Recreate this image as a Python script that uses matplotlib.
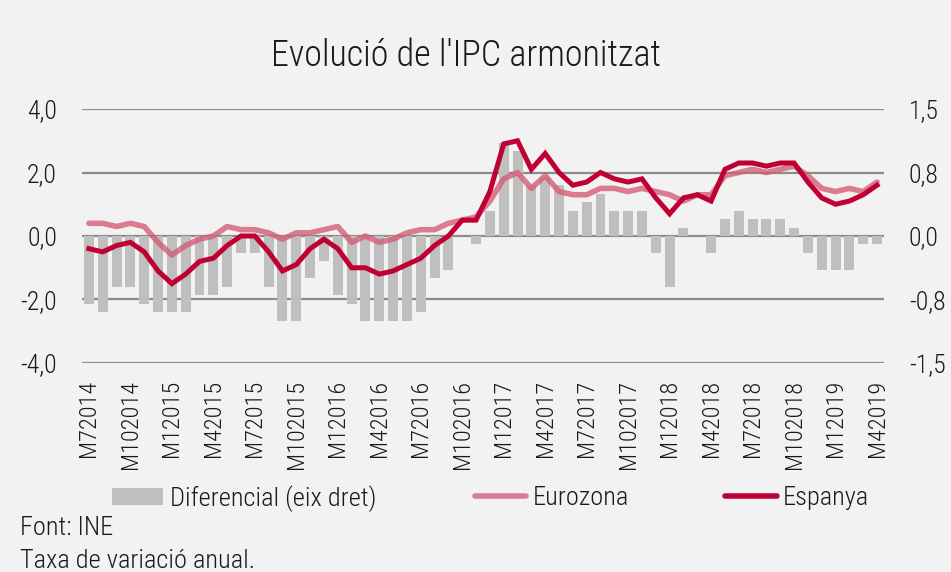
#!/usr/bin/env python3
"""
Evolucio de l'IPC armonitzat - Espanya vs Eurozona
"""

import matplotlib
matplotlib.use('Agg')
import matplotlib.pyplot as plt
from matplotlib import font_manager
from matplotlib.patches import Patch
from matplotlib.lines import Line2D
import numpy as np

# Data (taxa de variacio anual, M7 2014 - M4 2019)
months = ['M72014', 'M82014', 'M92014', 'M102014', 'M112014', 'M122014',
          'M12015', 'M22015', 'M32015', 'M42015', 'M52015', 'M62015',
          'M72015', 'M82015', 'M92015', 'M102015', 'M112015', 'M122015',
          'M12016', 'M22016', 'M32016', 'M42016', 'M52016', 'M62016',
          'M72016', 'M82016', 'M92016', 'M102016', 'M112016', 'M122016',
          'M12017', 'M22017', 'M32017', 'M42017', 'M52017', 'M62017',
          'M72017', 'M82017', 'M92017', 'M102017', 'M112017', 'M122017',
          'M12018', 'M22018', 'M32018', 'M42018', 'M52018', 'M62018',
          'M72018', 'M82018', 'M92018', 'M102018', 'M112018', 'M122018',
          'M12019', 'M22019', 'M32019', 'M42019']

espanya = [-0.4, -0.5, -0.3, -0.2, -0.5, -1.1,
           -1.5, -1.2, -0.8, -0.7, -0.3, 0.0, 0.0, -0.5, -1.1, -0.9, -0.4, -0.1,
           -0.4, -1.0, -1.0, -1.2, -1.1, -0.9, -0.7, -0.3, 0.0, 0.5, 0.5, 1.4,
           2.9, 3.0, 2.1, 2.6, 2.0, 1.6, 1.7, 2.0, 1.8, 1.7, 1.8, 1.2,
           0.7, 1.2, 1.3, 1.1, 2.1, 2.3, 2.3, 2.2, 2.3, 2.3, 1.7, 1.2,
           1.0, 1.1, 1.3, 1.6]

eurozona = [0.4, 0.4, 0.3, 0.4, 0.3, -0.2,
            -0.6, -0.3, -0.1, 0.0, 0.3, 0.2, 0.2, 0.1, -0.1, 0.1, 0.1, 0.2,
            0.3, -0.2, 0.0, -0.2, -0.1, 0.1, 0.2, 0.2, 0.4, 0.5, 0.6, 1.1,
            1.8, 2.0, 1.5, 1.9, 1.4, 1.3, 1.3, 1.5, 1.5, 1.4, 1.5, 1.4,
            1.3, 1.1, 1.3, 1.3, 1.9, 2.0, 2.1, 2.0, 2.1, 2.2, 1.9, 1.5,
            1.4, 1.5, 1.4, 1.7]

diferencial = [-0.8, -0.9, -0.6, -0.6, -0.8, -0.9,
               -0.9, -0.9, -0.7, -0.7, -0.6, -0.2, -0.2, -0.6, -1.0, -1.0, -0.5, -0.3,
               -0.7, -0.8, -1.0, -1.0, -1.0, -1.0, -0.9, -0.5, -0.4, 0.0, -0.1, 0.3,
               1.1, 1.0, 0.6, 0.7, 0.6, 0.3, 0.4, 0.5, 0.3, 0.3, 0.3, -0.2,
               -0.6, 0.1, 0.0, -0.2, 0.2, 0.3, 0.2, 0.2, 0.2, 0.1, -0.2, -0.4,
               -0.4, -0.4, -0.1, -0.1]

left_ticks = [-4.0, -2.0, 0.0, 2.0, 4.0]
left_labels = ['-4,0', '-2,0', '0,0', '2,0', '4,0']
right_ticks = [-1.5, -0.75, 0.0, 0.75, 1.5]
right_labels = ['-1,5', '-0,8', '0,0', '0,8', '1,5']

# Pick a narrow font if one is installed
available = {f.name for f in font_manager.fontManager.ttflist}
FONT = 'DejaVu Sans'
for fam in ['Roboto Condensed', 'Liberation Sans Narrow', 'Open Sans Condensed', 'Roboto']:
    if fam in available:
        FONT = fam
        break
plt.rcParams['font.family'] = [FONT, 'DejaVu Sans']
plt.rcParams['font.weight'] = 'light'

BG = '#F2F2F2'
TXT = '#1A1A1A'
RED = '#C00032'
PINK = '#D45A75'
GREY = '#BFBFBF'
GRID = '#8C8C8C'

fig = plt.figure(figsize=(9.51, 5.72), dpi=100, facecolor=BG)
ax = fig.add_axes([0.0862, 0.3654, 0.8433, 0.4440])
ax2 = ax.twinx()

x = np.arange(len(months))

# Bars on the right axis, drawn underneath
ax2.bar(x, diferencial, width=0.72, color=GREY, zorder=2)
ax2.set_ylim(-1.5, 1.5)
ax2.set_yticks(right_ticks)
ax2.set_yticklabels(right_labels)
for t in right_ticks:
    ax2.axhline(t, color=GRID, linewidth=1.6, zorder=1)
ax2.set_facecolor(BG)

# Lines on the left axis, on top
ax.set_zorder(ax2.get_zorder() + 1)
ax.patch.set_visible(False)
ax.plot(x, eurozona, color=PINK, alpha=0.78, linewidth=4.0, solid_capstyle='round')
ax.plot(x, espanya, color=RED, linewidth=3.6, solid_joinstyle='miter')
ax.set_ylim(-4, 4)
ax.set_yticks(left_ticks)
ax.set_yticklabels(left_labels)
ax.set_xlim(-0.5, len(months) - 0.5)
ax.set_xticks(x[::3])
ax.set_xticklabels(months[::3], rotation=90)

for a in (ax, ax2):
    for s in a.spines.values():
        s.set_visible(False)
    a.tick_params(length=0, labelsize=17.5, colors=TXT)
ax.tick_params(axis='y', pad=18, labelsize=18.5)
ax2.tick_params(axis='y', pad=18, labelsize=18.5)
ax.tick_params(axis='x', pad=12)

fig.text(0.49, 0.902, "Evolució de l'IPC armonitzat", ha='center', va='center',
         fontsize=26, color=TXT)

# Legend entries placed separately
leg_kw = dict(frameon=False, fontsize=19, labelcolor=TXT, handlelength=1.95,
              handletextpad=0.25, borderaxespad=0, borderpad=0, loc='center left')
fig.legend(handles=[Patch(facecolor=GREY, label='Diferencial (eix dret)')],
           bbox_to_anchor=(0.1178, 0.129), handleheight=0.6, **leg_kw)
fig.legend(handles=[Line2D([], [], color=PINK, alpha=0.78, linewidth=4,
                           solid_capstyle='round', label='Eurozona')],
           bbox_to_anchor=(0.4995, 0.129), **leg_kw)
fig.legend(handles=[Line2D([], [], color=RED, linewidth=4,
                           solid_capstyle='round', label='Espanya')],
           bbox_to_anchor=(0.7624, 0.129), **leg_kw)

fig.text(0.021, 0.077, 'Font: INE', ha='left', va='center', fontsize=19, color=TXT)
fig.text(0.021, 0.020, 'Taxa de variació anual.', ha='left', va='center',
         fontsize=19, color=TXT)

fig.savefig('out.png', dpi=100, facecolor=BG)
